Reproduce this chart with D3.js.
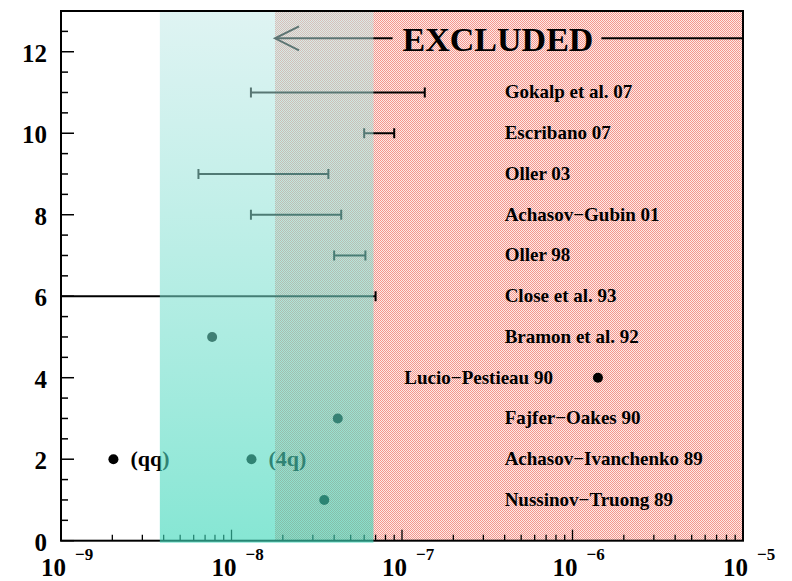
<!DOCTYPE html>
<html>
<head>
<meta charset="utf-8">
<script src="https://cdn.jsdelivr.net/npm/d3@7"></script>
<style>
  body { margin: 0; background: #fff; }
  svg { display: block; }
  text { font-family: "Liberation Serif", "Times New Roman", serif; font-weight: bold; fill: #000; }
</style>
</head>
<body>
<svg id="chart" width="792" height="581"></svg>
<script>
// Model predictions, one row per reference (row number = position on the y axis)
const rowNumbers = [1, 2, 3, 4, 5, 6, 7, 8, 9, 10, 11];
const rowLabels = [
  "Nussinov\u2212Truong 89",
  "Achasov\u2212Ivanchenko 89",
  "Fajfer\u2212Oakes 90",
  "Lucio\u2212Pestieau 90",
  "Bramon et al. 92",
  "Close et al. 93",
  "Oller 98",
  "Achasov\u2212Gubin 01",
  "Oller 03",
  "Escribano 07",
  "Gokalp et al. 07"
];

// Single-value predictions
const pointRows   = [1, 2, 2, 3, 4, 5];
const pointValues = [3.5e-8, 2.03e-9, 1.31e-8, 4.2e-8, 1.41e-6, 7.7e-9];
const pointTags   = ["", "(qq)", "(4q)", "", "", ""];

// Range predictions (null low = open towards the left edge)
const rangeRows = [6, 7, 8, 9, 10, 11];
const rangeLow  = [null, 4.0e-8, 1.3e-8, 6.4e-9, 6.0e-8, 1.3e-8];
const rangeHigh = [7.0e-8, 6.1e-8, 4.4e-8, 3.7e-8, 9.0e-8, 1.36e-7];

// Shaded bands
const allowedBand = [3.8e-9, 6.8e-8];
const excludedFrom = 1.8e-8;
const excludedRow = 12.33;

// Axes
const xDomain = [1e-9, 1e-5];
const xTickExponents = [-9, -8, -7, -6, -5];
const yDomain = [0, 13];
const yTickLabels = [0, 2, 4, 6, 8, 10, 12];

const svg = d3.select("#chart");
const plotL = 61, plotR = 743, plotT = 11, plotB = 540.7;

const x = d3.scaleLog().domain(xDomain).range([plotL, plotR]);
const y = d3.scaleLinear().domain(yDomain).range([plotB, plotT]);

const defs = svg.append("defs");

// dotted red fill for the excluded region
const pat = defs.append("pattern")
  .attr("id", "redDots").attr("patternUnits", "userSpaceOnUse")
  .attr("width", 2).attr("height", 2);
pat.append("rect").attr("width", 2).attr("height", 2).attr("fill", "#fdeae6");
pat.append("rect").attr("x", 0).attr("y", 0).attr("width", 1).attr("height", 1).attr("fill", "#f4968e");
pat.append("rect").attr("x", 1).attr("y", 1).attr("width", 1).attr("height", 1).attr("fill", "#f4968e");

// translucent teal gradient for the allowed band
const grad = defs.append("linearGradient")
  .attr("id", "tealGrad").attr("x1", 0).attr("y1", 0).attr("x2", 0).attr("y2", 1);
grad.append("stop").attr("offset", 0).attr("stop-color", "rgb(190,232,230)").attr("stop-opacity", 0.5);
grad.append("stop").attr("offset", 1).attr("stop-color", "rgb(60,215,185)").attr("stop-opacity", 0.62);

// excluded region
svg.append("rect")
  .attr("x", x(excludedFrom)).attr("y", plotT)
  .attr("width", x(xDomain[1]) - x(excludedFrom))
  .attr("height", plotB - plotT)
  .attr("fill", "url(#redDots)")
  .attr("shape-rendering", "crispEdges");

// y axis ticks (inside), major every 2, minor every 0.5
const yt = svg.append("g").attr("stroke", "#000").attr("stroke-width", 1.5);
d3.range(0, 13.01, 0.5).forEach(v => {
  const major = Math.abs(v % 2) < 1e-9;
  yt.append("line").attr("x1", plotL).attr("x2", plotL + (major ? 13 : 7))
    .attr("y1", y(v)).attr("y2", y(v));
});
svg.append("g").selectAll("text").data(yTickLabels).join("text")
  .attr("x", 47).attr("y", d => y(d) + 10)
  .attr("text-anchor", "end").attr("font-size", 25)
  .text(d => d);

// x axis ticks (inside), log decades with 2..9 minors
const xt = svg.append("g").attr("stroke", "#000").attr("stroke-width", 1.3);
xTickExponents.forEach((e, i) => {
  const base = Math.pow(10, e);
  xt.append("line").attr("x1", x(base)).attr("x2", x(base))
    .attr("y1", plotB).attr("y2", plotB - 11);
  if (i < xTickExponents.length - 1) {
    d3.range(2, 10).forEach(m => {
      xt.append("line").attr("x1", x(m * base)).attr("x2", x(m * base))
        .attr("y1", plotB).attr("y2", plotB - 6);
    });
  }
});
const xl = svg.append("g").selectAll("g").data(xTickExponents).join("g")
  .attr("transform", e => `translate(${x(Math.pow(10, e))},0)`);
xl.append("text").attr("x", 5).attr("y", 576).attr("text-anchor", "end")
  .attr("font-size", 25).text("10");
xl.append("text").attr("x", 14).attr("y", 560).attr("font-size", 17)
  .text(e => "\u2212" + Math.abs(e));

// frame
svg.append("rect").attr("x", plotL).attr("y", plotT)
  .attr("width", plotR - plotL).attr("height", plotB - plotT)
  .attr("fill", "none").attr("stroke", "#000").attr("stroke-width", 2);

// range predictions
const rg = svg.append("g").attr("stroke", "#000").attr("stroke-width", 2).attr("fill", "none");
rangeRows.forEach((r, i) => {
  const lo = rangeLow[i] === null ? xDomain[0] : rangeLow[i];
  const hi = rangeHigh[i];
  const yy = y(r);
  rg.append("line").attr("x1", x(lo)).attr("x2", x(hi)).attr("y1", yy).attr("y2", yy);
  if (rangeLow[i] !== null)
    rg.append("line").attr("x1", x(lo)).attr("x2", x(lo)).attr("y1", yy - 5).attr("y2", yy + 5);
  rg.append("line").attr("x1", x(hi)).attr("x2", x(hi)).attr("y1", yy - 5).attr("y2", yy + 5);
});

// point predictions
svg.append("g").selectAll("circle").data(pointRows).join("circle")
  .attr("cx", (r, i) => x(pointValues[i])).attr("cy", r => y(r))
  .attr("r", 5).attr("fill", "#000");
svg.append("g").selectAll("text").data(pointTags).join("text")
  .attr("x", (t, i) => x(pointValues[i]) + 17)
  .attr("y", (t, i) => y(pointRows[i]) + 7)
  .attr("font-size", 22)
  .text(t => t);

// reference labels
const labelAt = 4.0e-7;
svg.append("g").selectAll("text").data(rowNumbers).join("text")
  .each(function (r, i) {
    const t = d3.select(this);
    const pi = pointRows.indexOf(r);
    if (pi >= 0 && pointValues[pi] > labelAt) {
      t.attr("x", x(pointValues[pi]) - 45).attr("text-anchor", "end");
    } else {
      t.attr("x", x(labelAt)).attr("text-anchor", "start");
    }
    t.attr("y", y(r) + 6);
  })
  .attr("font-size", 19)
  .text((r, i) => rowLabels[i]);

// EXCLUDED arrow
const ey = y(excludedRow);
const ex = svg.append("text")
  .attr("x", (x(8.85e-8) + x(1.51e-6)) / 2).attr("y", ey + 13)
  .attr("text-anchor", "middle").attr("font-size", 34)
  .text("EXCLUDED");
const bb = ex.node().getBBox();
const ag = svg.append("g").attr("stroke", "#000").attr("stroke-width", 2).attr("fill", "none");
const tipX = x(excludedFrom);
ag.append("line").attr("x1", tipX).attr("x2", bb.x - 10).attr("y1", ey).attr("y2", ey);
ag.append("line").attr("x1", bb.x + bb.width + 8).attr("x2", x(xDomain[1])).attr("y1", ey).attr("y2", ey);
ag.append("path").attr("d", `M${tipX + 24},${ey - 12} L${tipX},${ey} L${tipX + 24},${ey + 12}`);

// allowed band, drawn over everything beneath it
svg.append("rect")
  .attr("x", x(allowedBand[0])).attr("y", plotT + 1)
  .attr("width", x(allowedBand[1]) - x(allowedBand[0]))
  .attr("height", plotB - plotT + 1)
  .attr("fill", "url(#tealGrad)");
</script>
</body>
</html>
